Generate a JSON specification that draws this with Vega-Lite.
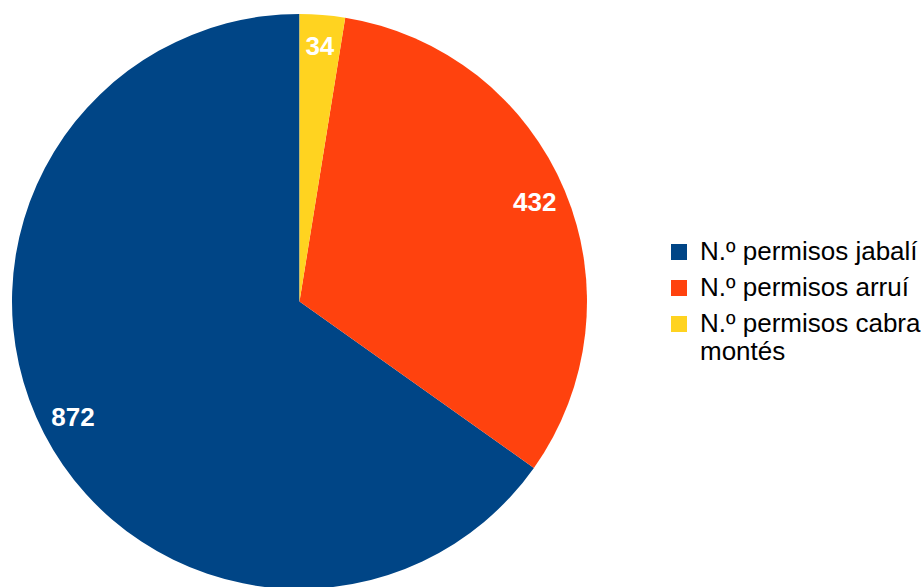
{
  "$schema": "https://vega.github.io/schema/vega-lite/v6.json",
  "width": 599,
  "height": 603,
  "padding": 0,
  "background": "white",
  "config": {"view": {"stroke": null}, "font": "Liberation Sans"},
  "data": {
    "values": [
      {"categoria": "N.º permisos jabalí", "valor": 872},
      {"categoria": "N.º permisos arruí", "valor": 432},
      {"categoria": "N.º permisos cabra montés", "valor": 34}
    ]
  },
  "encoding": {
    "theta": {"field": "valor", "type": "quantitative", "stack": true},
    "order": {"field": "valor", "type": "quantitative", "sort": "ascending"}
  },
  "layer": [
    {
      "mark": {"type": "arc", "radius": 287.5},
      "encoding": {
        "color": {
          "field": "categoria",
          "type": "nominal",
          "scale": {
            "domain": ["N.º permisos jabalí", "N.º permisos arruí", "N.º permisos cabra montés"],
            "range": ["#004586", "#ff420e", "#ffd320"]
          },
          "legend": {
            "title": null,
            "orient": "none",
            "legendX": 666,
            "legendY": 239,
            "symbolType": "square",
            "symbolSize": 256,
            "symbolStrokeWidth": 0,
            "labelFontSize": 26,
            "labelFont": "Liberation Sans",
            "labelColor": "#000000",
            "labelLimit": 400,
            "labelOffset": 8,
            "rowPadding": 10,
            "labelExpr": "datum.label == 'N.º permisos cabra montés' ? ['N.º permisos cabra', 'montés'] : datum.label"
          }
        }
      }
    },
    {
      "mark": {"type": "text", "radius": 255, "font": "Liberation Sans", "fontSize": 26, "fontWeight": "bold", "color": "white"},
      "encoding": {
        "text": {"field": "valor", "type": "quantitative"}
      }
    }
  ]
}
